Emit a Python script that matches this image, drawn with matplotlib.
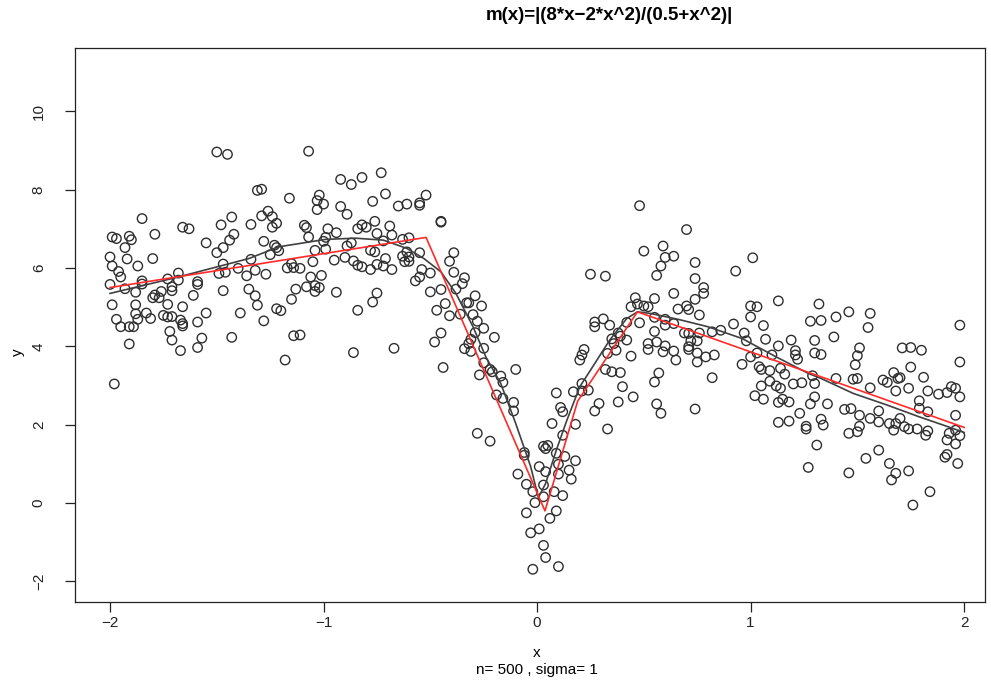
import matplotlib
matplotlib.use("Agg")
import matplotlib.pyplot as plt
import numpy as np

plt.rcParams['font.family'] = ['Liberation Sans', 'DejaVu Sans']

# simulated sample (n = 500, sigma = 1)
x_obs = [
    -1.50, -1.45, -1.85, -1.66, -1.63, -1.43, -1.48, -1.99, -1.97, -1.91, -1.90, -1.79, -1.42, -1.44,
    -1.93, -1.55, -1.47, -1.50, -2.00, -1.92, -1.80, -1.99, -1.87, -1.47, -1.40, -1.96, -1.95, -1.68,
    -1.49, -1.46, -1.36, -1.85, -1.73, -1.68, -1.59, -1.59, -2.00, -1.93, -1.85, -1.71, -1.76, -1.88,
    -1.71, -1.47, -1.35, -1.80, -1.79, -1.77, -1.61, -1.99, -1.88, -1.73, -1.66, -1.88, -1.83, -1.75,
    -1.73, -1.71, -1.55, -1.39, -1.97, -1.87, -1.81, -1.67, -1.66, -1.59, -1.95, -1.91, -1.89, -1.66,
    -1.72, -1.57, -1.43, -1.91, -1.71, -1.67, -1.59, -1.98,
    -1.07, -0.92, -0.87, -0.82, -0.73, -1.31, -1.29, -1.16, -1.02, -1.03, -1.00, -1.03, -0.92, -0.89,
    -0.77, -0.71, -1.26, -1.29, -1.24, -1.34, -1.22, -1.24, -1.09, -1.08, -0.98, -0.94, -1.07, -0.99,
    -1.00, -0.84, -0.82, -0.80, -0.76, -0.75, -0.69, -0.68, -1.28, -1.23, -1.22, -1.21, -1.25, -1.34,
    -1.04, -0.99, -0.89, -0.87, -0.78, -0.76, -0.72, -1.15, -1.14, -1.17, -1.11, -1.05, -0.95, -0.90,
    -0.86, -0.84, -0.82, -0.78, -0.75, -0.72, -0.71, -0.68, -1.32, -1.27, -1.06, -1.01, -1.32, -1.31,
    -1.13, -1.08, -1.04, -1.02, -1.04, -0.94, -0.75, -1.15, -0.77, -1.22, -1.20, -0.84, -1.28, -1.14,
    -1.11, -0.86, -0.67, -1.18,
    -0.52, -0.65, -0.61, -0.55, -0.55, -0.45, -0.45, -0.63, -0.60, -0.61, -0.63, -0.60, -0.62, -0.60,
    -0.55, -0.39, -0.41, -0.39, -0.54, -0.50, -0.55, -0.57, -0.34, -0.35, -0.38, -0.45, -0.50, -0.29,
    -0.33, -0.32, -0.26, -0.43, -0.47, -0.41, -0.36, -0.30, -0.28, -0.25, -0.29, -0.20, -0.31, -0.32,
    -0.45, -0.48, -0.34, -0.31, -0.25,
    -0.44, -0.25, -0.22, -0.21, -0.27, -0.17, -0.16, -0.10, -0.19, -0.16, -0.11, -0.11, -0.28, -0.22,
    -0.06, -0.06, -0.09, -0.05, -0.05,
    0.48, 0.50, 0.59, 0.60, 0.64, 0.58, 0.56, 0.25, 0.32, 0.64, 0.46, 0.44, 0.47, 0.50, 0.52, 0.55,
    0.66, 0.31, 0.27, 0.27, 0.34, 0.42, 0.48, 0.55, 0.60, 0.60, 0.64, 0.38, 0.39, 0.42, 0.35, 0.36,
    0.55, 0.56, 0.52, 0.52, 0.60, 0.59, 0.64, 0.65, 0.37, 0.33, 0.22, 0.21, 0.20, 0.44, 0.32, 0.35,
    0.39, 0.57,
    0.55, 0.40, 0.45, 0.38, 0.56, 0.58, 0.33, 0.21, 0.21, 0.24, 0.17, 0.09, 0.29, 0.27, 0.11, 0.12,
    0.07, 0.18, 0.12, 0.03, 0.05, 0.04, 0.09, 0.13, 0.18, 0.10, 0.01, 0.04, 0.15, 0.10, 0.16, 0.03,
    -0.02, 0.03, 0.08, 0.12, -0.01, 0.09, 0.06, 0.01, -0.03, 0.03, 0.04, 0.10, -0.02,
    0.70, 1.01, 0.74, 0.93, 0.74, 0.78, 0.78, 0.74, 0.70, 0.71, 0.76, 1.00, 1.03, 1.00, 1.13, 1.32,
    0.92, 1.06, 1.28, 1.33, 0.69, 0.71, 0.76, 0.82, 0.86, 0.97, 0.98, 1.07, 1.19, 1.30, 0.72, 0.75,
    0.71, 0.71, 0.75, 1.13, 1.03, 1.10, 1.21, 1.21, 1.22, 1.30, 1.33, 0.75, 0.79, 0.83, 1.00, 0.96,
    1.04, 1.05, 1.09, 1.14, 1.16, 1.29, 0.82,
    0.74, 1.05, 1.09, 1.12, 1.14, 1.20, 1.24, 1.30, 1.02, 1.06, 1.13, 1.15, 1.18, 1.30, 1.28, 1.23,
    1.13, 1.18, 1.26, 1.26, 1.33, 1.34, 1.31, 1.27,
    1.98, 1.98, 1.40, 1.46, 1.56, 1.55, 1.39, 1.51, 1.50, 1.49, 1.71, 1.75, 1.80, 1.75, 1.67, 1.40,
    1.48, 1.50, 1.62, 1.69, 1.81,
    1.56, 1.64, 1.70, 1.74, 1.68, 1.83, 1.88, 1.92, 1.94, 1.96, 1.98, 1.79, 1.36, 1.44, 1.47, 1.51,
    1.60, 1.56, 1.60, 1.65, 1.70, 1.68, 1.72, 1.74, 1.67, 1.78, 1.79, 1.83, 1.96, 1.46, 1.50, 1.51,
    1.83, 1.82, 1.93, 1.96, 1.98, 1.92, 1.96, 1.60, 1.54, 1.65, 1.92, 1.91, 1.97, 1.46, 1.68, 1.74,
    1.66, 1.84, 1.76,
]
y_obs = [
    8.96, 8.90, 7.26, 7.04, 7.00, 7.30, 7.10, 6.79, 6.75, 6.81, 6.72, 6.86, 6.86, 6.71,
    6.52, 6.64, 6.52, 6.39, 6.28, 6.23, 6.24, 6.05, 6.05, 6.10, 5.99, 5.91, 5.77, 5.87,
    5.86, 5.89, 5.80, 5.67, 5.72, 5.69, 5.65, 5.58, 5.58, 5.47, 5.59, 5.52, 5.40, 5.38,
    5.42, 5.42, 5.46, 5.24, 5.31, 5.24, 5.30, 5.06, 5.06, 5.07, 5.01, 4.83, 4.85, 4.79,
    4.75, 4.76, 4.85, 4.85, 4.69, 4.69, 4.71, 4.67, 4.58, 4.62, 4.50, 4.50, 4.50, 4.52,
    4.38, 4.21, 4.23, 4.06, 4.16, 3.89, 3.97, 3.04,
    8.98, 8.26, 8.13, 8.31, 8.43, 7.98, 8.01, 7.78, 7.86, 7.72, 7.63, 7.49, 7.57, 7.37,
    7.70, 7.89, 7.45, 7.33, 7.31, 7.11, 7.14, 7.04, 7.09, 7.03, 7.00, 6.90, 6.79, 6.78,
    6.68, 7.00, 7.10, 7.04, 7.19, 6.88, 7.07, 6.84, 6.68, 6.58, 6.52, 6.44, 6.34, 6.22,
    6.45, 6.48, 6.56, 6.64, 6.45, 6.41, 6.69, 6.11, 6.01, 6.00, 5.99, 6.16, 6.20, 6.27,
    6.18, 6.07, 6.03, 5.96, 6.09, 6.05, 6.24, 5.96, 5.94, 5.84, 5.77, 5.81, 5.29, 5.05,
    5.46, 5.52, 5.55, 5.50, 5.40, 5.38, 5.36, 5.20, 5.13, 4.96, 4.91, 4.92, 4.65, 4.27,
    4.29, 3.84, 3.95, 3.65,
    7.86, 7.58, 7.63, 7.66, 7.60, 7.19, 7.17, 6.73, 6.77, 6.41, 6.30, 6.28, 6.16, 6.17,
    6.39, 6.39, 6.17, 5.89, 5.96, 5.87, 5.77, 5.67, 5.75, 5.60, 5.46, 5.45, 5.39, 5.29,
    5.11, 5.11, 5.03, 5.09, 4.92, 4.78, 4.82, 4.81, 4.64, 4.46, 4.35, 4.23, 4.18, 4.07,
    4.34, 4.11, 3.94, 3.87, 3.95,
    3.46, 3.58, 3.41, 3.35, 3.27, 3.24, 3.08, 3.41, 2.76, 2.67, 2.57, 2.35, 1.78, 1.58,
    1.29, 1.22, 0.74, 0.48, -0.25,
    7.59, 6.43, 6.56, 6.27, 6.30, 6.05, 5.81, 5.84, 5.79, 5.35, 5.24, 5.01, 5.08, 5.03, 5.01, 5.22,
    4.95, 4.70, 4.62, 4.50, 4.54, 4.61, 4.60, 4.74, 4.69, 4.54, 4.58, 4.34, 4.26, 4.16, 4.19, 4.07,
    4.38, 4.11, 4.07, 3.92, 4.01, 3.86, 3.88, 3.65, 3.90, 3.82, 3.92, 3.78, 3.65, 3.75, 3.41, 3.35,
    3.33, 3.32,
    3.09, 2.97, 2.71, 2.58, 2.53, 2.29, 1.89, 3.05, 2.86, 2.88, 2.84, 2.81, 2.54, 2.35, 2.44, 2.33,
    2.03, 2.01, 1.73, 1.45, 1.47, 1.39, 1.27, 1.19, 1.08, 0.99, 0.93, 0.80, 0.84, 0.74, 0.61, 0.46,
    0.29, 0.16, 0.29, 0.19, 0.01, -0.20, -0.39, -0.66, -0.76, -1.08, -1.39, -1.62, -1.69,
    6.98, 6.26, 6.14, 5.92, 5.73, 5.50, 5.35, 5.20, 5.03, 4.94, 4.80, 5.03, 5.01, 4.75, 5.16, 5.08,
    4.57, 4.53, 4.64, 4.66, 4.34, 4.33, 4.34, 4.37, 4.41, 4.34, 4.14, 4.18, 4.16, 4.15, 4.14, 4.14,
    3.99, 3.92, 3.83, 4.01, 3.83, 3.78, 3.89, 3.78, 3.67, 3.83, 3.79, 3.60, 3.73, 3.78, 3.73, 3.54,
    3.48, 3.41, 3.38, 3.44, 3.29, 3.25, 3.20,
    2.40, 2.99, 3.11, 2.99, 2.93, 3.04, 3.07, 3.05, 2.74, 2.65, 2.57, 2.65, 2.58, 2.71, 2.53, 2.29,
    2.06, 2.09, 1.96, 1.89, 2.14, 1.99, 1.48, 0.91,
    4.54, 3.60, 4.75, 4.88, 4.84, 4.48, 4.24, 3.96, 3.76, 3.53, 3.96, 3.97, 3.90, 3.47, 3.33, 3.18,
    3.16, 3.18, 3.14, 3.18, 3.21,
    2.94, 3.08, 3.20, 2.93, 2.86, 2.86, 2.78, 2.82, 2.97, 2.93, 2.71, 2.61, 2.53, 2.39, 2.41, 2.24,
    2.35, 2.16, 2.07, 2.03, 2.16, 2.03, 1.95, 1.89, 1.86, 1.89, 2.42, 2.33, 2.24, 1.78, 1.82, 1.96,
    1.84, 1.73, 1.78, 1.86, 1.72, 1.61, 1.51, 1.35, 1.14, 1.01, 1.24, 1.17, 1.01, 0.77, 0.76, 0.82,
    0.59, 0.29, -0.05,
]

# kernel smoother (black) and piecewise linear fit (red)
smooth_x = [-2.00, -1.68, -1.35, -1.21, -0.99, -0.85, -0.72, -0.61, -0.53, -0.45, -0.38, -0.30,
            -0.24, -0.17, -0.10, -0.03, 0.006, 0.04, 0.09, 0.14, 0.20, 0.25, 0.34, 0.42, 0.47, 0.53,
            0.59, 0.66, 0.80, 0.96, 1.12, 1.27, 1.33, 1.48, 1.64, 1.79, 1.95, 2.00]
smooth_y = [5.35, 5.77, 6.24, 6.54, 6.73, 6.76, 6.71, 6.50, 6.24, 5.90, 5.35, 4.50,
            3.73, 3.05, 2.03, 0.93, 0.14, 0.50, 1.35, 2.12, 2.97, 3.39, 4.16, 4.71, 4.88, 4.84,
            4.77, 4.69, 4.50, 4.20, 3.73, 3.31, 3.18, 2.80, 2.50, 2.20, 1.90, 1.80]
fit_x = [-2.00, -0.52, 0.037, 0.19, 0.47, 2.00]
fit_y = [5.50, 6.78, -0.20, 2.60, 4.88, 1.93]

fig = plt.figure(figsize=(9.91, 6.98), dpi=100)
ax = fig.add_axes([0.0757, 0.1375, 0.9183, 0.7935])

ax.scatter(x_obs, y_obs, s=46, facecolors='none', edgecolors='#2e2e2e', linewidths=1.0, zorder=2)
ax.plot(smooth_x, smooth_y, color='#404040', lw=1.2, zorder=3)
ax.plot(fit_x, fit_y, color='#ff2a2a', lw=1.2, zorder=4)

ax.set_xlim(-2.164, 2.098)
ax.set_ylim(-2.526, 11.61)
ax.set_xticks([-2, -1, 0, 1, 2])
ax.set_xticklabels(['\u22122', '\u22121', '0', '1', '2'])
ax.set_yticks([-2, 0, 2, 4, 6, 8, 10])
ax.set_yticklabels(['\u22122', '0', '2', '4', '6', '8', '10'], rotation=90, va='center')
ax.tick_params(direction='out', length=7, width=0.9, labelsize=11, colors='#222222')
ax.tick_params(axis='x', pad=3)
ax.tick_params(axis='y', pad=14)
for sp in ax.spines.values():
    sp.set_linewidth(0.9)
    sp.set_color('#222222')

fig.text(0.615, 0.978, 'm(x)=|(8*x\u22122*x^2)/(0.5+x^2)|', ha='center', va='center',
         fontsize=13.5, fontweight='bold')
fig.text(0.542, 0.064, 'x', ha='center', va='center', fontsize=11)
fig.text(0.542, 0.040, 'n= 500 , sigma= 1', ha='center', va='center', fontsize=11)
fig.text(0.018, 0.496, 'y', ha='center', va='center', fontsize=11, rotation=90)

fig.savefig('out.png', dpi=100)
